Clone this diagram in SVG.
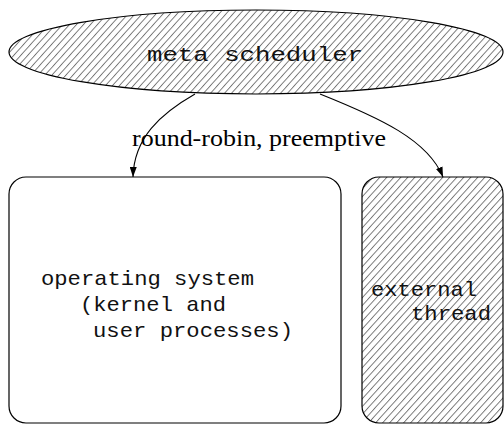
<svg xmlns="http://www.w3.org/2000/svg" width="504" height="425" viewBox="0 0 504 425">
  <style>
    .outline { stroke: #000; stroke-width: 1.2; }
    .hatched { fill: url(#hatch); }
    .plain { fill: #fff; }
    .mono { font-family: "Liberation Mono", "DejaVu Sans Mono", monospace; font-size: 21px; fill: #111; }
    .serif { font-family: "Liberation Serif", "DejaVu Serif", serif; font-size: 24px; fill: #000; }
    .edge { fill: none; stroke: #000; stroke-width: 1.1; }
  </style>
  <defs>
    <pattern id="hatch" patternUnits="userSpaceOnUse" width="5.2" height="10" patternTransform="rotate(42)">
      <rect width="5.2" height="10" fill="#fff"/>
      <line x1="0.5" y1="0" x2="0.5" y2="10" stroke="#444" stroke-width="0.75"/>
    </pattern>
    <marker id="arrow" markerWidth="10" markerHeight="7" refX="10" refY="3.5" orient="auto" markerUnits="userSpaceOnUse">
      <path d="M0,0 L10,3.5 L0,7 Z" fill="#000"/>
    </marker>
  </defs>

  <rect width="504" height="425" fill="#fff"/>

  <g id="meta-scheduler">
    <ellipse cx="256" cy="52" rx="247" ry="42" class="hatched outline"/>
    <text x="147" y="61" class="mono" font-size="24" textLength="216" lengthAdjust="spacingAndGlyphs">meta scheduler</text>
  </g>

  <g id="operating-system">
    <rect x="9" y="177" width="332" height="246" rx="17" ry="17" class="plain outline"/>
    <text x="41" y="285" class="mono" textLength="213" lengthAdjust="spacingAndGlyphs">operating system</text>
    <text x="80" y="311" class="mono" textLength="146" lengthAdjust="spacingAndGlyphs">(kernel and</text>
    <text x="93" y="337" class="mono" textLength="200" lengthAdjust="spacingAndGlyphs">user processes)</text>
  </g>

  <g id="external-thread">
    <rect x="362" y="177" width="141" height="246" rx="17" ry="17" class="hatched outline"/>
    <text x="371" y="296" class="mono" textLength="106" lengthAdjust="spacingAndGlyphs">external</text>
    <text x="411" y="320" class="mono" textLength="80" lengthAdjust="spacingAndGlyphs">thread</text>
  </g>

  <g id="connectors">
    <path d="M195,94 C160,114 134,138 133,177" class="edge" marker-end="url(#arrow)"/>
    <path d="M320,94 C380,118 428,140 443,177" class="edge" marker-end="url(#arrow)"/>
    <text x="132" y="146" class="serif" textLength="254" lengthAdjust="spacingAndGlyphs">round-robin, preemptive</text>
  </g>
</svg>
